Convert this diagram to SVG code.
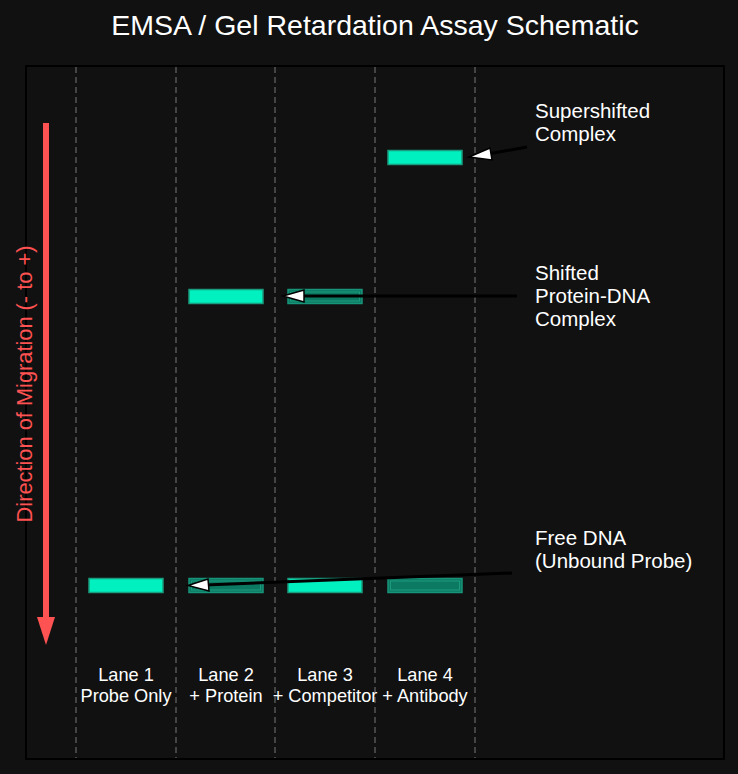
<svg xmlns="http://www.w3.org/2000/svg" width="738" height="774" viewBox="0 0 738 774">
<defs>
<style>
text{font-family:"Liberation Sans","Open Sans",sans-serif;fill:#ffffff}
.title{font-size:28.5px;text-anchor:middle}
.lbl{font-size:20.5px}
.lane{font-size:18.2px;text-anchor:middle}
.dir{font-size:21.8px;fill:#ff5252;text-anchor:middle}
.sep{stroke:#444444;stroke-width:2;stroke-dasharray:6,4}
.bright{fill:#00f0c0;stroke:#1a9c7e;stroke-width:1.5}
.faint{fill:#0c7a63;stroke:#17947a;stroke-width:1.5}
.faintin{fill:none;stroke:#1c9c7f;stroke-width:1}
.conn{stroke:#000000;stroke-width:3;fill:none}
.head{fill:#ffffff;stroke:#000000;stroke-width:1.5}
</style>
</defs>
<rect x="0" y="0" width="738" height="774" fill="#111111"/>
<text class="title" x="375" y="35">EMSA / Gel Retardation Assay Schematic</text>
<rect x="26" y="66" width="698" height="693" fill="#111111" stroke="#000000" stroke-width="2"/>
<g id="lanes">
<line class="sep" x1="76" y1="67" x2="76" y2="758"/>
<line class="sep" x1="176" y1="67" x2="176" y2="758"/>
<line class="sep" x1="275" y1="67" x2="275" y2="758"/>
<line class="sep" x1="375" y1="67" x2="375" y2="758"/>
<line class="sep" x1="475" y1="67" x2="475" y2="758"/>
</g>
<g id="band-l1-free"><rect class="bright" x="89" y="578.5" width="74" height="14"/></g>
<g id="band-l2-shift"><rect class="bright" x="189" y="289.5" width="74" height="14"/></g>
<g id="band-l2-free"><rect class="faint" x="189" y="578.5" width="74" height="14"/><rect class="faintin" x="191.5" y="581" width="69" height="9"/></g>
<g id="band-l3-shift"><rect class="faint" x="288" y="289.5" width="74" height="14"/><rect class="faintin" x="290.5" y="292" width="69" height="9"/></g>
<g id="band-l3-free"><rect class="bright" x="288" y="578.5" width="74" height="14"/></g>
<g id="band-l4-super"><rect class="bright" x="388" y="150.5" width="74" height="14"/></g>
<g id="band-l4-free"><rect class="faint" x="388" y="578.5" width="74" height="14"/><rect class="faintin" x="390.5" y="581" width="69" height="9"/></g>
<g id="connectors">
<line class="conn" x1="527" y1="147" x2="488" y2="154"/>
<polygon class="head" points="469,157 490,148 492,160"/>
<line class="conn" x1="517" y1="296" x2="300" y2="296"/>
<polygon class="head" points="283,296 304,290 304,302"/>
<line class="conn" x1="512" y1="573" x2="205" y2="585"/>
<polygon class="head" points="188,585.5 208,579 209,591"/>
</g>
<g id="direction">
<rect x="43" y="123" width="6" height="497" fill="#ff5252"/>
<polygon points="37,617 55,617 46,645" fill="#ff5252"/>
<text class="dir" transform="translate(32,384) rotate(-90)">Direction of Migration (- to +)</text>
</g>
<g id="label-super"><text class="lbl" x="535" y="118">Supershifted</text><text class="lbl" x="535" y="141">Complex</text></g>
<g id="label-shift"><text class="lbl" x="535" y="280">Shifted</text><text class="lbl" x="535" y="303">Protein-DNA</text><text class="lbl" x="535" y="326">Complex</text></g>
<g id="label-free"><text class="lbl" x="535" y="545">Free DNA</text><text class="lbl" x="535" y="568">(Unbound Probe)</text></g>
<g id="lane-labels">
<text class="lane" x="126" y="681">Lane 1</text><text class="lane" x="126" y="702">Probe Only</text>
<text class="lane" x="226" y="681">Lane 2</text><text class="lane" x="226" y="702">+ Protein</text>
<text class="lane" x="325" y="681">Lane 3</text><text class="lane" x="325" y="702">+ Competitor</text>
<text class="lane" x="425" y="681">Lane 4</text><text class="lane" x="425" y="702">+ Antibody</text>
</g>
</svg>
